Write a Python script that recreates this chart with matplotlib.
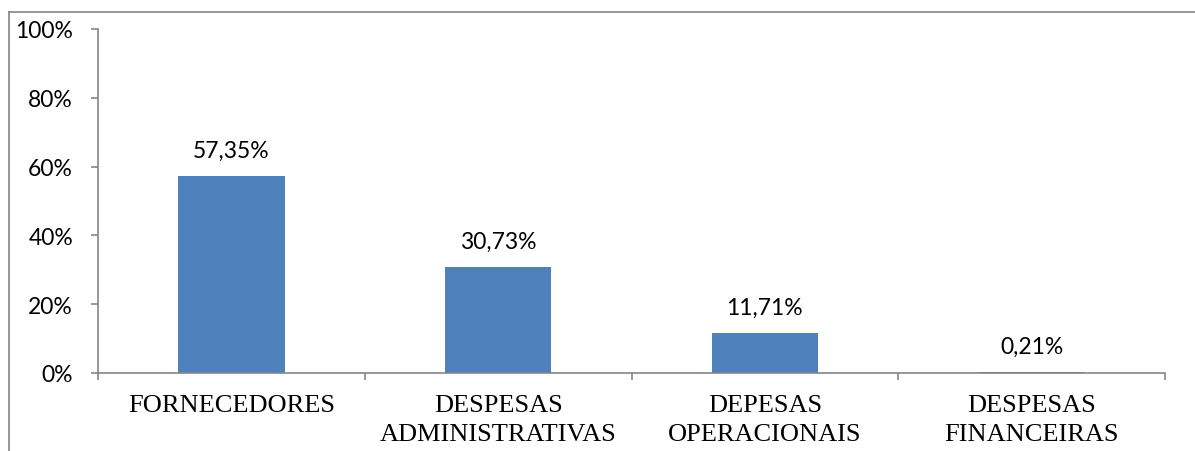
import matplotlib
matplotlib.use('Agg')
import matplotlib.pyplot as plt
from matplotlib.lines import Line2D

categories = ['FORNECEDORES', 'DESPESAS\nADMINISTRATIVAS', 'DEPESAS\nOPERACIONAIS', 'DESPESAS\nFINANCEIRAS']
values = [57.35, 30.73, 11.71, 0.21]
labels = ['57,35%', '30,73%', '11,71%', '0,21%']
yticks = [0, 20, 40, 60, 80, 100]

W, H = 1195, 452
fig = plt.figure(figsize=(W / 100, H / 100), dpi=100)
ax = fig.add_axes([98 / W, 1 - 374 / H, (1165 - 98) / W, (374 - 30) / H])

axis_color = '#868686'
x = list(range(len(categories)))
ax.bar(x, values, width=0.4, color='#4F81BD', zorder=2)

for xi, v, lab in zip(x, values, labels):
    ax.annotate(lab, (xi, v), xytext=(0, 11), textcoords='offset points',
                ha='center', va='bottom', fontsize=16.5, family='Lato', color='#000000')

ax.set_xlim(-0.5, len(categories) - 0.5)
ax.set_ylim(0, 100)

# category boundaries get the tick marks, labels sit in the middle
ax.set_xticks([i - 0.5 for i in range(len(categories) + 1)])
ax.set_xticklabels([])
ax.set_xticks(x, minor=True)
ax.set_xticklabels(categories, minor=True, fontsize=19, family='Liberation Serif',
                   linespacing=1.42)
ax.tick_params(axis='x', which='minor', length=0, pad=15)
ax.tick_params(axis='x', which='major', direction='out', length=5, color=axis_color, width=1.2)

ax.set_yticks(yticks)
ax.set_yticklabels([f'{t}%' for t in yticks], fontsize=16.5, family='Lato')
ax.tick_params(axis='y', direction='out', length=5, color=axis_color, width=1.2, pad=13)

for s in ['top', 'right']:
    ax.spines[s].set_visible(False)
for s in ['left', 'bottom']:
    ax.spines[s].set_color(axis_color)
    ax.spines[s].set_linewidth(1.2)

# outer chart frame (cropped on right and bottom)
fig.add_artist(Line2D([8.5 / W, 8.5 / W], [0, 1 - 13 / H], color=axis_color, lw=1.2))
fig.add_artist(Line2D([8.5 / W, 1], [1 - 13 / H, 1 - 13 / H], color=axis_color, lw=1.2))

fig.savefig('out.png', dpi=100)
